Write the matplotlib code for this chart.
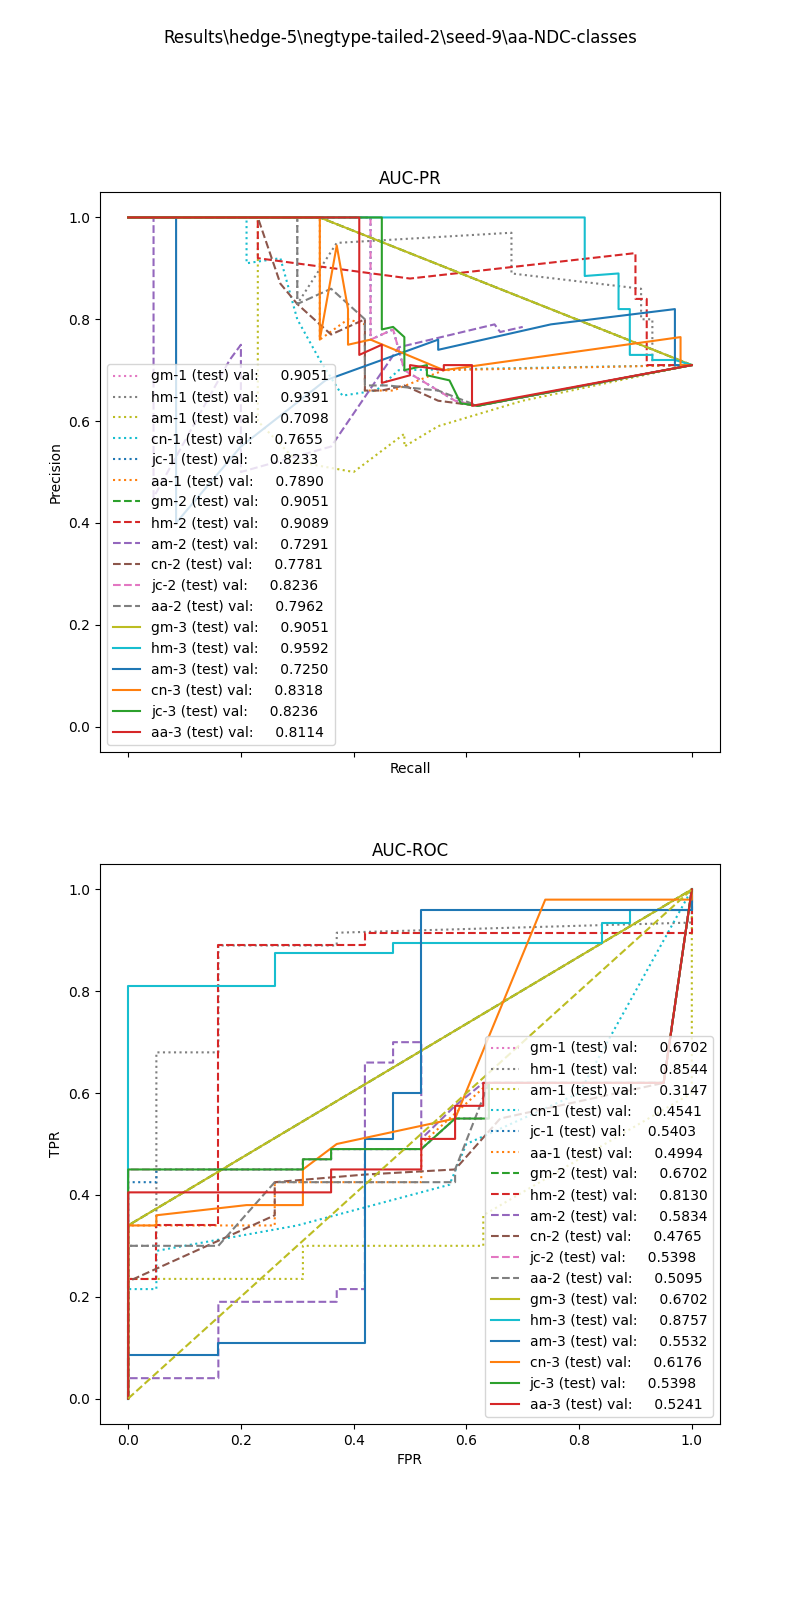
import matplotlib
matplotlib.use("Agg")
import matplotlib.pyplot as plt

TITLE = "Results\\hedge-5\\negtype-tailed-2\\seed-9\\aa-NDC-classes"

names = ["gm-1", "hm-1", "am-1", "cn-1", "jc-1", "aa-1",
         "gm-2", "hm-2", "am-2", "cn-2", "jc-2", "aa-2",
         "gm-3", "hm-3", "am-3", "cn-3", "jc-3", "aa-3"]
pr_auc = [0.9051, 0.9391, 0.7098, 0.7655, 0.8233, 0.7890,
          0.9051, 0.9089, 0.7291, 0.7781, 0.8236, 0.7962,
          0.9051, 0.9592, 0.7250, 0.8318, 0.8236, 0.8114]
roc_auc = [0.6702, 0.8544, 0.3147, 0.4541, 0.5403, 0.4994,
           0.6702, 0.8130, 0.5834, 0.4765, 0.5398, 0.5095,
           0.6702, 0.8757, 0.5532, 0.6176, 0.5398, 0.5241]

# PR curves: (recall list, precision list)
pr_curves = {
    "gm-1": ([0, 0.34, 1], [1, 1, 0.71]),
    "hm-1": ([0, 0.30, 0.30, 0.37, 0.68, 0.68, 0.91, 0.91, 0.93, 0.93, 1], [1, 1, 0.83, 0.95, 0.97, 0.89, 0.86, 0.80, 0.80, 0.71, 0.71]),
    "am-1": ([0, 0.23, 0.23, 0.30, 0.40, 0.49, 0.49, 0.55, 0.70, 1], [1, 1, 0.60, 0.52, 0.50, 0.575, 0.55, 0.59, 0.64, 0.71]),
    "cn-1": ([0, 0.21, 0.21, 0.27, 0.30, 0.34, 0.38, 0.44, 0.44, 0.48, 1], [1, 1, 0.91, 0.92, 0.80, 0.72, 0.65, 0.66, 0.66, 0.70, 0.71]),
    "jc-1": ([0, 0.43, 0.43, 0.47, 0.49, 0.58, 0.62, 1], [1, 1, 0.76, 0.78, 0.70, 0.64, 0.63, 0.71]),
    "aa-1": ([0, 0.34, 0.34, 0.39, 0.42, 0.42, 0.47, 0.56, 1], [1, 1, 0.76, 0.80, 0.79, 0.66, 0.66, 0.70, 0.71]),
    "gm-2": ([0, 0.34, 1], [1, 1, 0.71]),
    "hm-2": ([0, 0.23, 0.23, 0.50, 0.90, 0.90, 0.92, 0.92, 1], [1, 1, 0.92, 0.88, 0.93, 0.84, 0.84, 0.71, 0.71]),
    "am-2": ([0, 0.045, 0.045, 0.18, 0.20, 0.20, 0.36, 0.48, 0.65, 0.66, 0.70], [1, 1, 0.45, 0.72, 0.75, 0.50, 0.55, 0.745, 0.79, 0.775, 0.785]),
    "cn-2": ([0, 0.23, 0.27, 0.30, 0.36, 0.42, 0.42, 0.45, 0.49, 0.55, 0.62, 1], [1, 1, 0.87, 0.83, 0.77, 0.80, 0.66, 0.66, 0.67, 0.64, 0.63, 0.71]),
    "jc-2": ([0, 0.43, 0.43, 0.47, 0.49, 0.58, 0.62, 1], [1, 1, 0.76, 0.78, 0.70, 0.64, 0.63, 0.71]),
    "aa-2": ([0, 0.30, 0.30, 0.36, 0.42, 0.42, 0.46, 0.55, 0.62, 1], [1, 1, 0.83, 0.86, 0.80, 0.67, 0.67, 0.66, 0.63, 0.71]),
    "gm-3": ([0, 0.34, 1], [1, 1, 0.71]),
    "hm-3": ([0, 0.81, 0.81, 0.87, 0.87, 0.89, 0.89, 0.93, 0.93, 0.97, 1], [1, 1, 0.885, 0.89, 0.82, 0.82, 0.73, 0.73, 0.72, 0.72, 0.71]),
    "am-3": ([0, 0.085, 0.085, 0.20, 0.35, 0.45, 0.55, 0.55, 0.75, 0.97, 0.97, 1], [1, 1, 0.40, 0.55, 0.68, 0.72, 0.76, 0.74, 0.79, 0.82, 0.71, 0.71]),
    "cn-3": ([0, 0.34, 0.34, 0.37, 0.39, 0.39, 0.43, 0.43, 0.56, 0.98, 0.98, 1], [1, 1, 0.76, 0.945, 0.82, 0.75, 0.76, 0.76, 0.70, 0.765, 0.71, 0.71]),
    "jc-3": ([0, 0.45, 0.45, 0.47, 0.49, 0.49, 0.53, 0.53, 0.57, 0.59, 0.62, 1], [1, 1, 0.78, 0.785, 0.765, 0.70, 0.71, 0.69, 0.68, 0.635, 0.63, 0.71]),
    "aa-3": ([0, 0.41, 0.41, 0.45, 0.45, 0.50, 0.50, 0.56, 0.56, 0.61, 0.61, 1], [1, 1, 0.73, 0.75, 0.675, 0.69, 0.71, 0.70, 0.71, 0.71, 0.63, 0.71]),
}

# ROC curves: (FPR list, TPR list)
roc_curves = {
    "gm-1": ([0, 0, 1], [0, 0.34, 1]),
    "hm-1": ([0, 0, 0.05, 0.05, 0.16, 0.16, 0.37, 0.37, 1, 1], [0, 0.30, 0.30, 0.68, 0.68, 0.89, 0.89, 0.915, 0.935, 1]),
    "am-1": ([0, 0, 0.31, 0.31, 0.63, 0.63, 1, 1, 1], [0, 0.235, 0.235, 0.30, 0.30, 0.36, 0.60, 0.935, 1]),
    "cn-1": ([0, 0, 0.05, 0.05, 0.30, 0.57, 0.60, 0.80, 1], [0, 0.215, 0.215, 0.29, 0.34, 0.42, 0.50, 0.60, 1]),
    "jc-1": ([0, 0, 0.05, 0.05, 0.31, 0.31, 0.36, 0.36, 0.52, 0.58, 0.64, 0.64, 0.95, 1], [0, 0.425, 0.425, 0.45, 0.45, 0.47, 0.47, 0.49, 0.49, 0.55, 0.55, 0.62, 0.62, 1]),
    "aa-1": ([0, 0, 0.05, 0.26, 0.26, 0.52, 0.52, 0.64, 0.95, 1], [0, 0.34, 0.34, 0.34, 0.425, 0.425, 0.50, 0.62, 0.62, 1]),
    "gm-2": ([0, 0, 1], [0, 0.34, 1]),
    "hm-2": ([0, 0, 0.05, 0.05, 0.16, 0.16, 0.42, 0.42, 1, 1], [0, 0.235, 0.235, 0.34, 0.34, 0.89, 0.89, 0.915, 0.915, 1]),
    "am-2": ([0, 0, 0.16, 0.16, 0.37, 0.37, 0.42, 0.42, 0.47, 0.47, 0.52, 0.52, 0.58, 0.63, 0.95, 1], [0, 0.04, 0.04, 0.19, 0.19, 0.215, 0.215, 0.66, 0.66, 0.70, 0.70, 0.51, 0.575, 0.62, 0.62, 1]),
    "cn-2": ([0, 0, 0.26, 0.26, 0.42, 0.58, 0.66, 0.95, 1], [0, 0.23, 0.36, 0.425, 0.44, 0.45, 0.55, 0.62, 1]),
    "jc-2": ([0, 0, 0.31, 0.31, 0.36, 0.36, 0.52, 0.58, 0.64, 0.64, 0.95, 1], [0, 0.45, 0.45, 0.47, 0.47, 0.49, 0.49, 0.55, 0.55, 0.62, 0.62, 1]),
    "aa-2": ([0, 0, 0.16, 0.26, 0.58, 0.58, 0.64, 0.95, 1], [0, 0.30, 0.30, 0.425, 0.425, 0.45, 0.62, 0.62, 1]),
    "gm-3": ([0, 0, 1], [0, 0.34, 1]),
    "hm-3": ([0, 0, 0.26, 0.26, 0.47, 0.47, 0.84, 0.84, 0.89, 0.89, 1, 1], [0, 0.81, 0.81, 0.875, 0.875, 0.895, 0.895, 0.935, 0.935, 0.96, 0.96, 1]),
    "am-3": ([0, 0, 0.16, 0.16, 0.42, 0.42, 0.47, 0.47, 0.52, 0.52, 1, 1], [0, 0.085, 0.085, 0.11, 0.11, 0.51, 0.51, 0.60, 0.60, 0.96, 0.96, 1]),
    "cn-3": ([0, 0, 0.05, 0.05, 0.21, 0.31, 0.31, 0.37, 0.58, 0.74, 1, 1], [0, 0.34, 0.34, 0.36, 0.38, 0.38, 0.45, 0.50, 0.55, 0.98, 0.98, 1]),
    "jc-3": ([0, 0, 0.31, 0.31, 0.36, 0.36, 0.52, 0.58, 0.64, 0.64, 0.95, 1], [0, 0.45, 0.45, 0.47, 0.47, 0.49, 0.49, 0.55, 0.55, 0.62, 0.62, 1]),
    "aa-3": ([0, 0, 0.36, 0.36, 0.52, 0.52, 0.58, 0.58, 0.63, 0.63, 0.95, 1], [0, 0.405, 0.405, 0.45, 0.45, 0.51, 0.51, 0.575, 0.575, 0.62, 0.62, 1]),
}

cycle = plt.rcParams["axes.prop_cycle"].by_key()["color"]
styles = {"1": ":", "2": "--", "3": "-"}

fig, (ax1, ax2) = plt.subplots(2, 1, figsize=(8, 16), dpi=100, sharex=True)
fig.subplots_adjust(left=0.125, right=0.9, top=0.88, bottom=0.11, hspace=0.2)
fig.suptitle(TITLE, y=0.982)

for i, name in enumerate(names):
    color = cycle[(i + 6) % 10]
    ls = styles[name[-1]]
    r, p = pr_curves[name]
    ax1.plot(r, p, ls=ls, color=color, label=f"{name} (test) val:     {pr_auc[i]:.4f}")
    f, t = roc_curves[name]
    ax2.plot(f, t, ls=ls, color=color, label=f"{name} (test) val:     {roc_auc[i]:.4f}")

ax2.plot([0, 1], [0, 1], ls="--", color=cycle[8])

ax1.set_title("AUC-PR")
ax1.set_xlabel("Recall")
ax1.set_ylabel("Precision")
ax1.set_ylim(-0.05, 1.05)
ax1.legend(loc="lower left")
ax1.xaxis.set_tick_params(labelbottom=False)

ax2.set_title("AUC-ROC")
ax2.set_xlabel("FPR")
ax2.set_ylabel("TPR")
ax2.set_ylim(-0.05, 1.05)
ax2.legend(loc="lower right")

fig.savefig("out.png")
